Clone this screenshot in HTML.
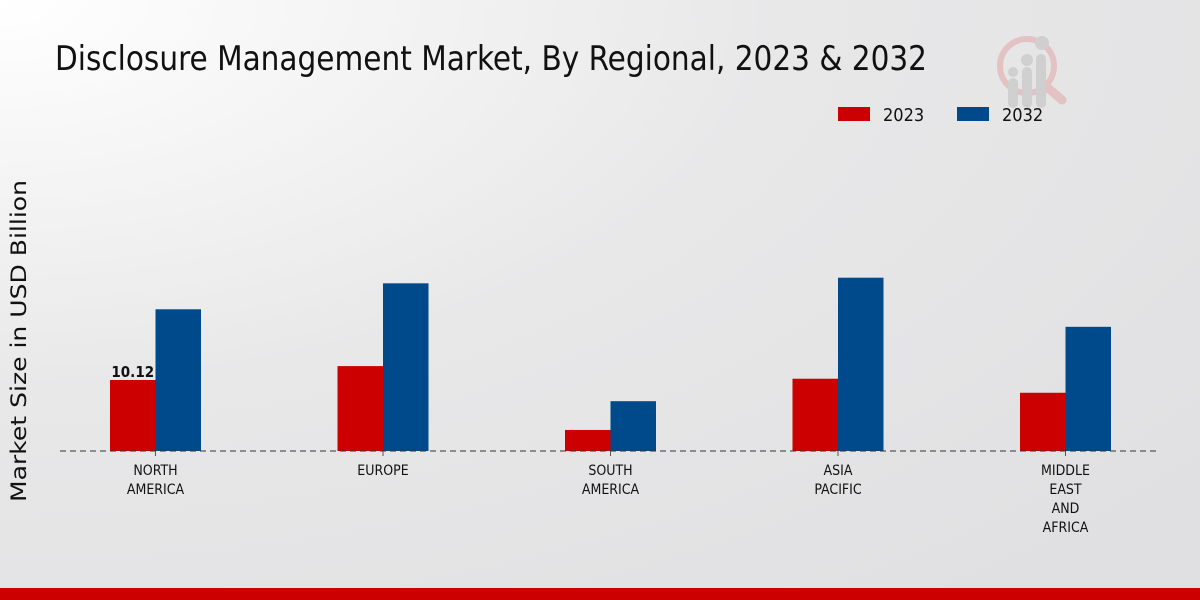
<!DOCTYPE html>
<html><head><meta charset="utf-8"><style>
html,body{margin:0;padding:0;width:1200px;height:600px;overflow:hidden}
svg{display:block;font-family:"DejaVu Sans Condensed","Liberation Sans Narrow","Liberation Sans",sans-serif}
</style></head><body>
<svg id="chart" width="1200" height="600" viewBox="0 0 1200 600">
<defs>
<radialGradient id="bg" cx="0" cy="0" r="1.3" gradientUnits="objectBoundingBox">
<stop offset="0" stop-color="#ffffff"/><stop offset="0.5" stop-color="#e8e8e9"/><stop offset="1" stop-color="#e0e0e2"/>
</radialGradient>
</defs>
<rect width="1200" height="600" fill="url(#bg)"/>
<rect x="0" y="588" width="1200" height="12" fill="#cc0000"/>
<text x="55" y="70" font-size="34" textLength="872" lengthAdjust="spacingAndGlyphs" fill="#111">Disclosure Management Market, By Regional, 2023 &amp; 2032</text>
<g opacity="0.5">
<circle cx="1027" cy="66" r="27" fill="none" stroke="#e0a0a0" stroke-width="6"/>
<line x1="1048" y1="88" x2="1062" y2="100" stroke="#e0a0a0" stroke-width="9" stroke-linecap="round"/>
<rect x="1008" y="78" width="10" height="30" rx="5" fill="#bbb"/>
<rect x="1022" y="67" width="10" height="41" rx="5" fill="#bbb"/>
<rect x="1036" y="54" width="10" height="54" rx="5" fill="#bbb"/>
<circle cx="1013" cy="72" r="5" fill="#bbb"/><circle cx="1027" cy="60" r="6" fill="#bbb"/><circle cx="1042" cy="43" r="7" fill="#bbb"/>
</g>
<g>
<rect x="838" y="107" width="32" height="14" fill="#cc0000"/>
<text x="883" y="121" font-size="18" fill="#111">2023</text>
<rect x="957" y="107" width="32" height="14" fill="#004a8c"/>
<text x="1002" y="121" font-size="18" fill="#111">2032</text>
</g>
<text transform="translate(26,341) rotate(-90)" text-anchor="middle" font-size="21" textLength="322" lengthAdjust="spacingAndGlyphs" font-family="DejaVu Sans, sans-serif" fill="#111">Market Size in USD Billion</text>
<g id="bars"></g>
<line x1="60" y1="451" x2="1160" y2="451" stroke="#333" stroke-dasharray="6,4"/>
<g id="labels"></g>
</svg>
<script>
const categories=[["NORTH","AMERICA"],["EUROPE"],["SOUTH","AMERICA"],["ASIA","PACIFIC"],["MIDDLE","EAST","AND","AFRICA"]];
const values2023=[10.12,12.1,3.0,10.3,8.3];
const values2032=[20.2,23.9,7.1,24.7,17.7];
const shownLabels=["10.12",null,null,null,null];
const NS="http://www.w3.org/2000/svg";
const base=451, scale=71/10.12;
const y=v=>base-v*scale;
const xc=i=>155.5+i*227.5;
const bw=45.5;
const bars=document.getElementById('bars'),labels=document.getElementById('labels');
function mk(t,a,p){const e=document.createElementNS(NS,t);for(const k in a)e.setAttribute(k,a[k]);p.appendChild(e);return e;}
categories.forEach((c,i)=>{
 const r=mk('rect',{x:xc(i)-bw,y:y(values2023[i]),width:bw,height:values2023[i]*scale,fill:'#cc0000'},bars);
 
 
 const b=mk('rect',{x:xc(i),y:y(values2032[i]),width:bw,height:values2032[i]*scale,fill:'#004a8c'},bars);
 
 
 const tk=mk('line',{x1:xc(i),x2:xc(i),y1:451,y2:456,stroke:'#555'},labels);
 
 
 c.forEach((ln,j)=>{
  const t=mk('text',{x:xc(i),y:475+j*19,'text-anchor':'middle','font-size':'14',fill:'#111'},labels);
  t.textContent=ln;
  
  
 });
 if(shownLabels[i]){
  const v=mk('text',{x:xc(i)-bw/2,y:y(values2023[i])-3,'text-anchor':'middle','font-size':'15','font-weight':'bold',fill:'#111'},labels);
  v.textContent=shownLabels[i];
  
  
 }
});
</script>
</body></html>
